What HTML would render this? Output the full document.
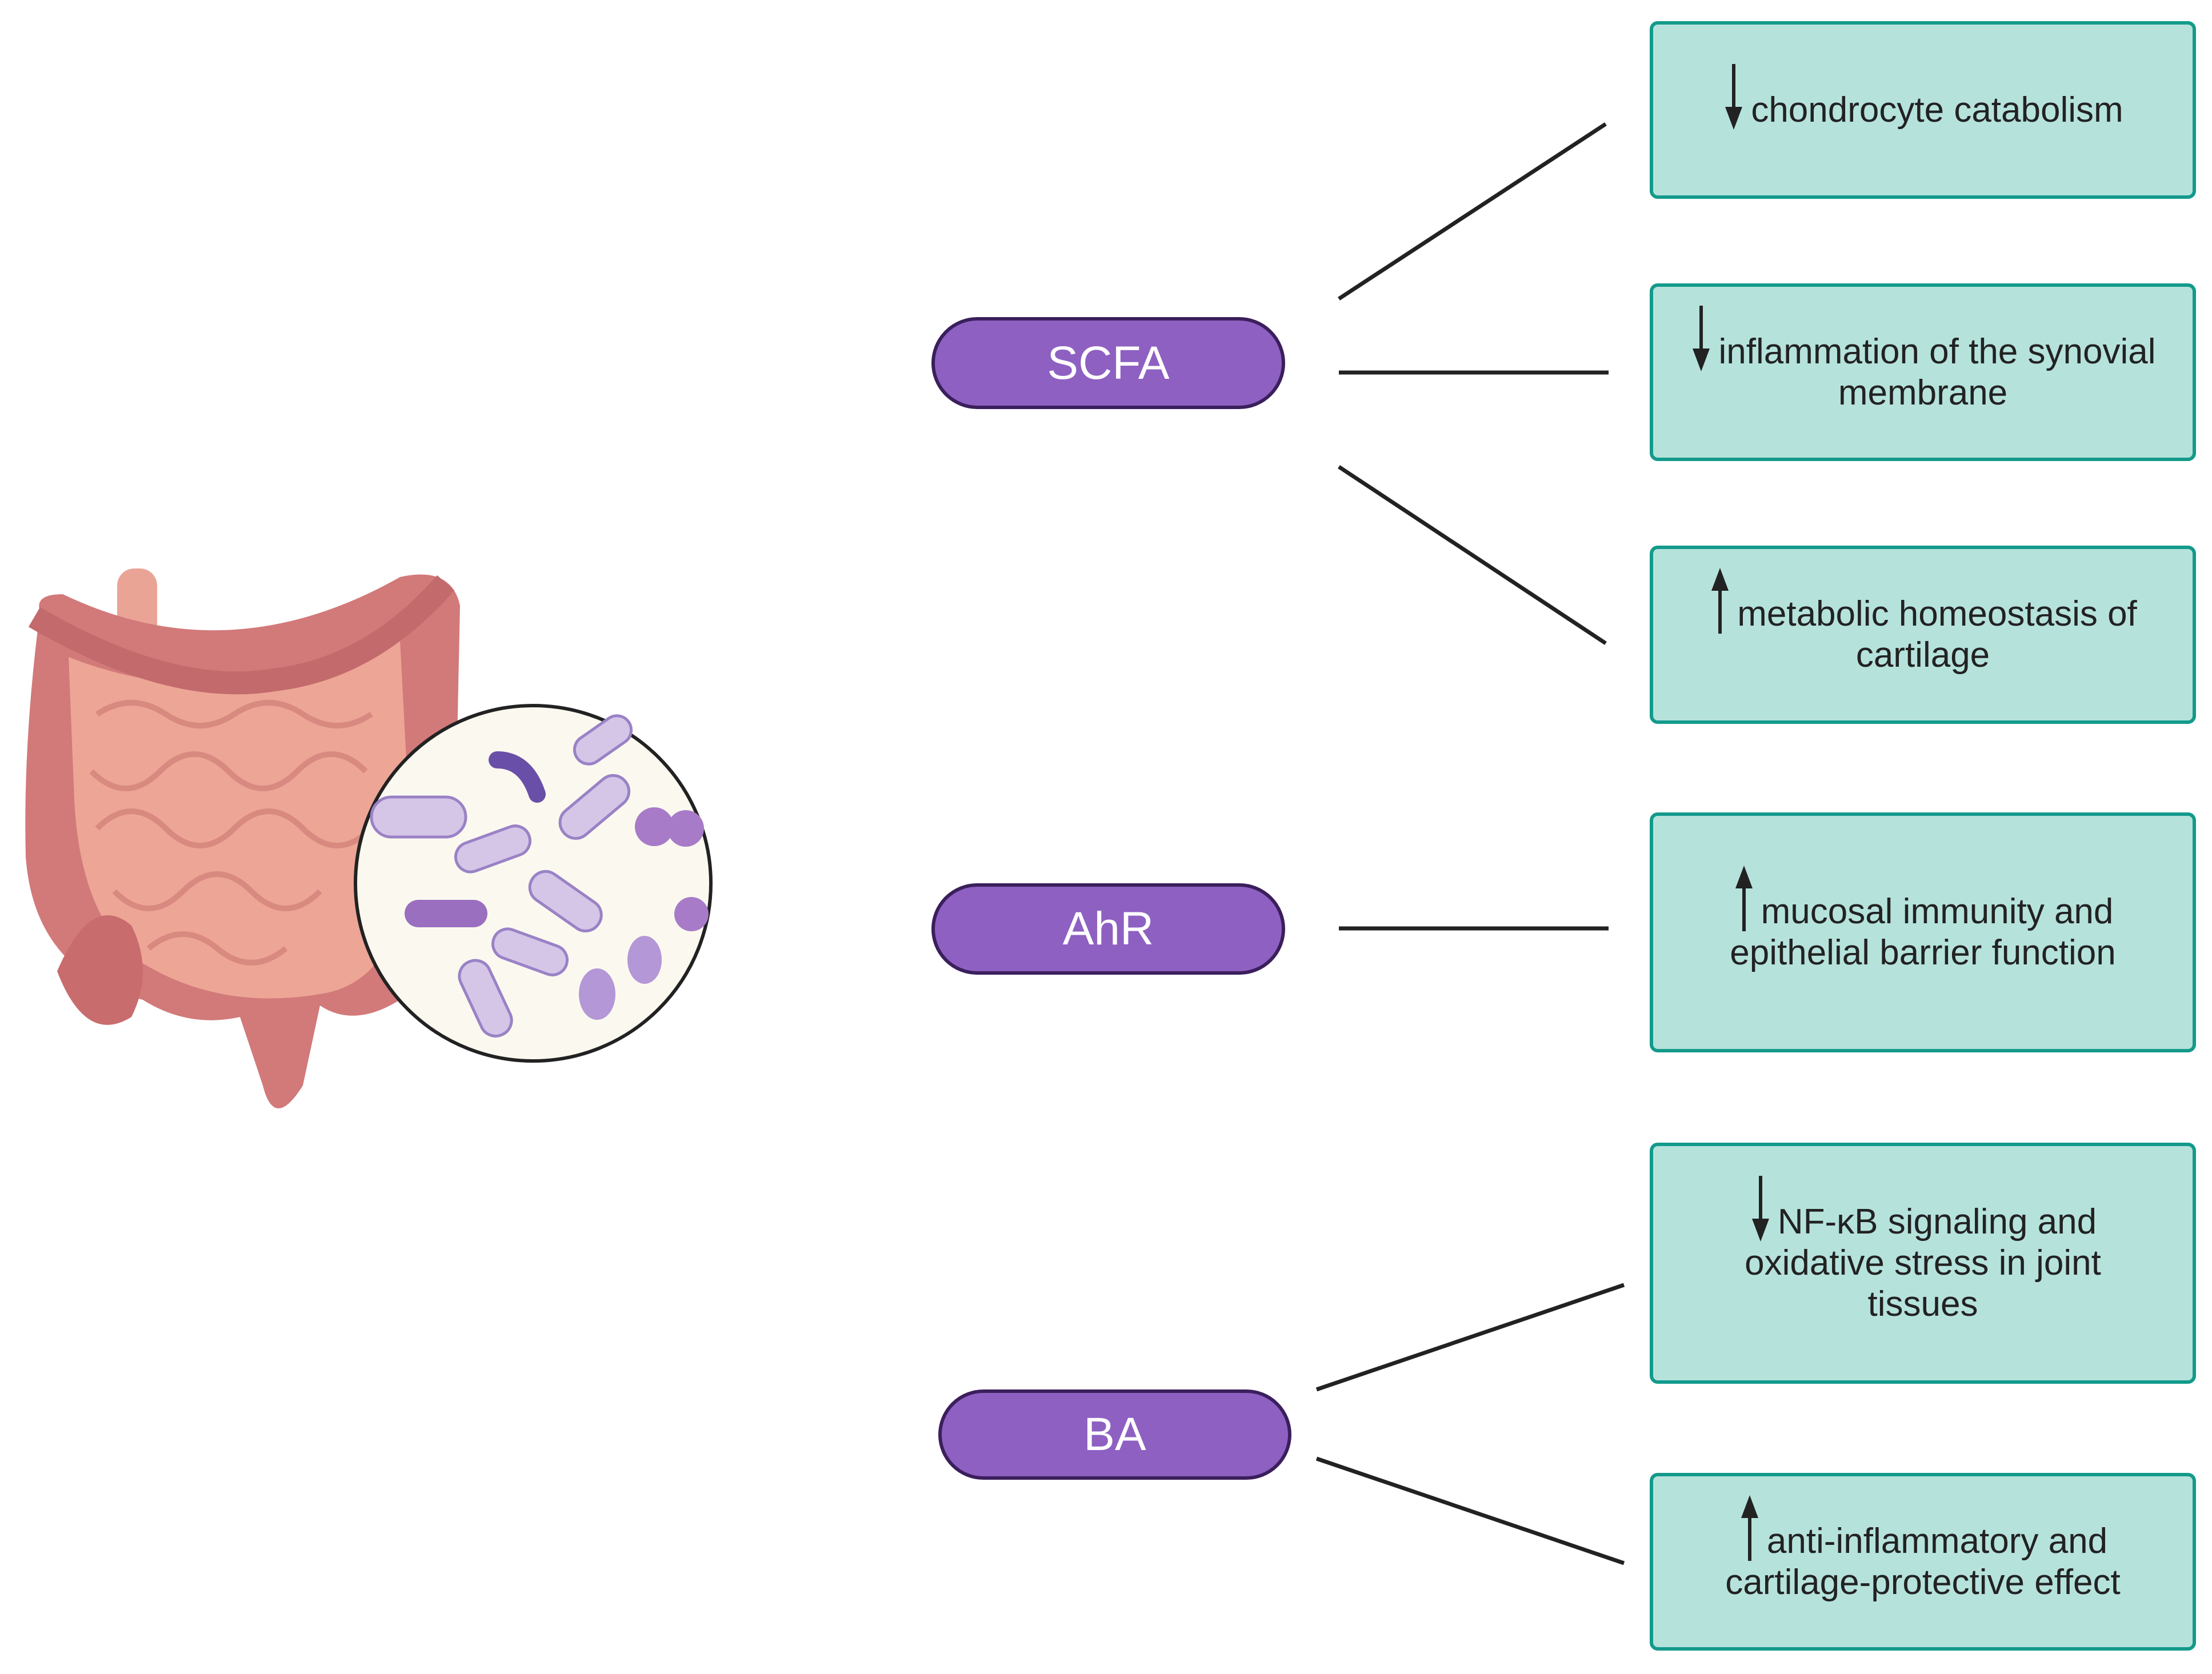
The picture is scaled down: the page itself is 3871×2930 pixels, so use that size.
<!DOCTYPE html>
<html><head><meta charset="utf-8"><style>
body{margin:0;width:3871px;height:2930px;background:#fff;position:relative;overflow:hidden;font-family:"Liberation Sans",sans-serif}
.box{position:absolute;left:2887px;width:956px;background:#b6e2dc;border:6px solid #139a8b;border-radius:14px;display:flex;align-items:center;justify-content:center;text-align:center;font-size:62px;line-height:72px;color:#222;box-sizing:border-box;padding:0 20px}
.pill{position:absolute;background:#8e60c2;border:6px solid #3b1f5c;border-radius:90px;color:#fff;font-size:82px;display:flex;align-items:center;justify-content:center;box-sizing:border-box}
.aw{display:inline-block;width:44px;height:40px;position:relative;margin-right:6px}
.aw svg{position:absolute;left:0;bottom:-14px}
</style></head><body>
<svg width="3871" height="2930" style="position:absolute;left:0;top:0">
<g stroke="#222" stroke-width="7">
<line x1="2343" y1="523" x2="2810" y2="217"/>
<line x1="2343" y1="652" x2="2815" y2="652"/>
<line x1="2343" y1="817" x2="2810" y2="1126"/>
<line x1="2343" y1="1625" x2="2815" y2="1625"/>
<line x1="2304" y1="2432" x2="2842" y2="2249"/>
<line x1="2304" y1="2553" x2="2842" y2="2736"/>
</g>
<rect x="205" y="995" width="70" height="140" rx="30" fill="#eaa496"/>
<path d="M70 1070 Q60 1040 110 1040 Q400 1180 700 1010 Q790 990 805 1060 L800 1300 Q790 1500 700 1750 Q620 1800 560 1760 L530 1900 Q480 1980 460 1900 L420 1780 Q330 1800 250 1750 Q60 1700 45 1500 Q40 1300 70 1070Z" fill="#d2797a"/>
<path d="M120 1150 Q400 1260 700 1120 L720 1500 Q700 1720 560 1740 Q380 1770 240 1680 Q140 1600 130 1400Z" fill="#eda596"/>
<g fill="none" stroke="#d88a80" stroke-width="10">
<path d="M170 1250 q60 -40 120 0 t120 0 t120 0 t120 0"/>
<path d="M160 1350 q60 60 120 0 t120 0 t120 0 t120 0"/>
<path d="M170 1450 q60 -60 120 0 t120 0 t120 0 t120 0"/>
<path d="M200 1560 q60 60 120 0 t120 0 t120 0"/>
<path d="M260 1660 q60 -50 120 0 t120 0"/>
</g>
<path d="M60 1080 Q300 1220 480 1190 Q650 1170 780 1020" fill="none" stroke="#c26a6c" stroke-width="40"/>
<path d="M100 1700 Q160 1560 230 1620 Q270 1700 230 1780 Q150 1830 100 1700Z" fill="#c96c6e"/>
<circle cx="933" cy="1546" r="311" fill="#fbf9ef" stroke="#222" stroke-width="6"/>
<g fill="#d5c6e8" stroke="#9a82c6" stroke-width="5">
<rect x="650" y="1395" width="165" height="70" rx="35"/>
<rect x="795" y="1460" width="135" height="52" rx="26" transform="rotate(-20 862 1486)"/>
<rect x="970" y="1385" width="140" height="55" rx="27" transform="rotate(-40 1040 1412)"/>
<rect x="1000" y="1270" width="110" height="50" rx="25" transform="rotate(-35 1055 1295)"/>
<rect x="920" y="1550" width="140" height="55" rx="27" transform="rotate(35 990 1577)"/>
<rect x="860" y="1640" width="135" height="52" rx="26" transform="rotate(20 927 1666)"/>
<rect x="780" y="1720" width="140" height="55" rx="27" transform="rotate(65 850 1747)"/>
</g>
<g fill="#b497d6">
<ellipse cx="1045" cy="1740" rx="32" ry="45"/><ellipse cx="1128" cy="1680" rx="30" ry="42"/>
</g>
<g fill="#a87bc8">
<circle cx="1145" cy="1447" r="34"/><circle cx="1200" cy="1450" r="32"/><circle cx="1210" cy="1600" r="30"/>
<rect x="708" y="1575" width="145" height="48" rx="24" fill="#9a6fbf"/>
</g>
<path d="M870 1330 Q920 1330 940 1390" stroke="#6a4fa8" stroke-width="30" fill="none" stroke-linecap="round"/>
</svg>
<div class="pill" style="left:1630px;top:555px;width:619px;height:161px">SCFA</div>
<div class="pill" style="left:1630px;top:1546px;width:619px;height:160px">AhR</div>
<div class="pill" style="left:1642px;top:2432px;width:618px;height:158px">BA</div>

<div class="box" style="top:37px;height:311px"><div><span class="aw"><svg width="40" height="115" viewBox="0 0 40 115"><line x1="20" y1="0" x2="20" y2="85" stroke="#222" stroke-width="6"/><path d="M5 75 L35 75 L20 115Z" fill="#222"/></svg></span>chondrocyte catabolism</div></div>
<div class="box" style="top:496px;height:311px"><div><span class="aw"><svg width="40" height="115" viewBox="0 0 40 115"><line x1="20" y1="0" x2="20" y2="85" stroke="#222" stroke-width="6"/><path d="M5 75 L35 75 L20 115Z" fill="#222"/></svg></span>inflammation of the synovial<br>membrane</div></div>
<div class="box" style="top:955px;height:312px"><div><span class="aw"><svg width="40" height="115" viewBox="0 0 40 115"><line x1="20" y1="30" x2="20" y2="115" stroke="#222" stroke-width="6"/><path d="M5 40 L35 40 L20 0Z" fill="#222"/></svg></span>metabolic homeostasis of<br>cartilage</div></div>
<div class="box" style="top:1422px;height:420px"><div><span class="aw"><svg width="40" height="115" viewBox="0 0 40 115"><line x1="20" y1="30" x2="20" y2="115" stroke="#222" stroke-width="6"/><path d="M5 40 L35 40 L20 0Z" fill="#222"/></svg></span>mucosal immunity and<br>epithelial barrier function</div></div>
<div class="box" style="top:2000px;height:422px"><div><span class="aw"><svg width="40" height="115" viewBox="0 0 40 115"><line x1="20" y1="0" x2="20" y2="85" stroke="#222" stroke-width="6"/><path d="M5 75 L35 75 L20 115Z" fill="#222"/></svg></span>NF-κB signaling and<br>oxidative stress in joint<br>tissues</div></div>
<div class="box" style="top:2578px;height:311px"><div><span class="aw"><svg width="40" height="115" viewBox="0 0 40 115"><line x1="20" y1="30" x2="20" y2="115" stroke="#222" stroke-width="6"/><path d="M5 40 L35 40 L20 0Z" fill="#222"/></svg></span>anti-inflammatory and<br>cartilage-protective effect</div></div>
</body></html>
